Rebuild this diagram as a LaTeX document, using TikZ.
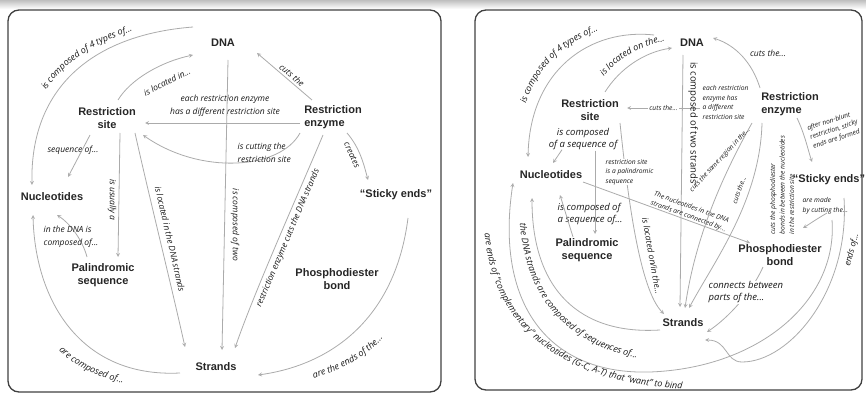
\documentclass[tikz,border=0pt]{standalone}
\usepackage{fontspec}
\setmainfont{Liberation Sans}
\newfontfamily\handfont{Open Sans}
\usetikzlibrary{decorations.text}

\tikzset{
  panel/.style={draw=black!75, line width=1.3pt, rounded corners=11pt},
  concept/.style={font=\bfseries\fontsize{11}{13}\selectfont, align=center, inner sep=1pt, text=black!85},
  link/.style={draw=black!33, line width=0.8pt, -stealth},
  note/.style={font=\handfont\itshape\fontsize{8.5}{12.5}\selectfont, align=center, inner sep=0.5pt, text=black!90},
  big note/.style={note, font=\handfont\itshape\fontsize{9.5}{12.5}\selectfont},
  print note/.style={note, font=\handfont\fontsize{9.5}{12.5}\selectfont},
  tiny note/.style={font=\handfont\itshape\fontsize{6.7}{9.5}\selectfont, align=left, inner sep=0.5pt, text=black!90},
  bent text/.style={decorate, decoration={text along path, text align=center,
      text={|\handfont\itshape\fontsize{9}{10}\selectfont\color{black!90}|#1}}},
}

\begin{document}
\begin{tikzpicture}[x=1pt,y=-1pt]
  \useasboundingbox (0,0) rectangle (866,398);
  % page shadow and the two frames
  \shade[top color=black!25, bottom color=white] (0,0) rectangle (866,9);
  \draw[panel] (8,10) rectangle (441,392);
  \draw[panel] (475,10) rectangle (862,390);

  % ---------- first map ----------
  \node[concept] (ldna) at (223,43) {DNA};
  \node[concept] (lsite) at (107,118) {Restriction\\site};
  \node[concept, align=left] (lenz) at (333,117) {Restriction\\enzyme};
  \node[concept] (lnuc) at (52,197) {Nucleotides};
  \node[concept] (lpal) at (103,275) {Palindromic\\sequence};
  \node[concept] (lsticky) at (396,195) {“Sticky ends”};
  \node[concept] (lbond) at (337,279) {Phosphodiester\\bond};
  \node[concept] (lstr) at (216,367) {Strands};

  \draw[link] ([shift={(-30,-16)}]ldna.center) .. controls (90,35) and (30,90) .. ([shift={(-20,-12)}]lnuc.center);
  \path[bent text={is composed of 4 types of...}] (28,150) .. controls (27,85) and (85,28) .. (195,20);
  \draw[link] ([shift={(11,-18)}]lsite.center) .. controls (130,80) and (160,62) .. ([shift={(-30,12)}]ldna.center);
  \node[note, rotate=27] (llocin) at (167,82) {is located in...};
  \draw[link] ([shift={(-33,6)}]lenz.center) -- ([shift={(38,5)}]lsite.center);
  \node[note] (leach) at (225,106) {each restriction enzyme\\has a different restriction site};
  \draw[link] ([shift={(-33,16)}]lenz.center) .. controls (280,170) and (200,175) .. ([shift={(36,17)}]lsite.center);
  \node[note, align=left, anchor=west] (lcutting) at (237,153) {is cutting the\\restriction site};
  \draw[link] ([shift={(-21,-17)}]lenz.center) -- ([shift={(34,10)}]ldna.center);
  \node[note, rotate=-40] (lcuts) at (292,75) {cuts the};
  \draw[link] ([shift={(14,16)}]lenz.center) .. controls (360,148) and (364,165) .. ([shift={(-28,-15)}]lsticky.center);
  \node[note, rotate=-65] (lcreates) at (352,155) {creates};
  \draw[link] ([shift={(-10,18)}]lenz.center) .. controls (300,190) and (255,290) .. ([shift={(19,-19)}]lstr.center);
  \node[note, rotate=67] (lcutsdna) at (288,238) {restriction enzyme cuts the DNA strands};
  \draw[link] ([shift={(5,17)}]ldna.center) -- ([shift={(6,-17)}]lstr.center);
  \node[note, rotate=-90] (ltwo) at (235,225) {is composed of two};
  \draw[link] ([shift={(13,15)}]lsite.center) -- ([shift={(15,-18)}]lpal.center);
  \node[note, rotate=-90] (lusually) at (112,200) {is usually a};
  \draw[link] ([shift={(28,15)}]lsite.center) .. controls (150,200) and (170,280) .. ([shift={(-31,-20)}]lstr.center);
  \node[note, rotate=-77] (llocdna) at (170,239) {is located in the DNA strands};
  \draw[link] ([shift={(-17,17)}]lsite.center) -- ([shift={(16,-20)}]lnuc.center);
  \node[note] (lseq) at (73,150) {sequence of...};
  \draw[link] ([shift={(-16,-18)}]lpal.center) .. controls (82,238) and (68,222) .. ([shift={(5,18)}]lnuc.center);
  \node[note, align=left, anchor=west] (linthe) at (43,237) {in the DNA is\\composed of...};
  \draw[link] ([shift={(-36,6)}]lstr.center) .. controls (80,378) and (35,300) .. ([shift={(-19,18)}]lnuc.center);
  \path[bent text={are composed of...}] (48,337) .. controls (65,362) and (95,380) .. (140,386);
  \draw[link] ([shift={(12,23)}]lsticky.center) .. controls (395,320) and (330,365) .. ([shift={(42,8)}]lstr.center);
  \path[bent text={are the ends of the...}] (296,382) .. controls (335,376) and (372,357) .. (394,324);

  % ---------- second map ----------
  \node[concept] (rdna) at (692,43) {DNA};
  \node[concept] (rsite) at (590,110) {Restriction\\site};
  \node[concept, align=left] (renz) at (790,104) {Restriction\\enzyme};
  \node[concept] (rnuc) at (551,175) {Nucleotides};
  \node[concept] (rpal) at (587,250) {Palindromic\\sequence};
  \node[concept] (rsticky) at (829,180) {“Sticky ends”};
  \node[concept] (rbond) at (780,255) {Phosphodiester\\bond};
  \node[concept] (rstr) at (683,323) {Strands};

  \draw[link] ([shift={(-38,-8)}]rdna.center) .. controls (590,28) and (530,70) .. ([shift={(-23,-18)}]rnuc.center);
  \path[bent text={is composed of 4 types of...}] (521,138) .. controls (521,72) and (572,28) .. (632,24);
  \draw[link] ([shift={(15,-18)}]rsite.center) .. controls (620,68) and (645,52) .. ([shift={(-20,5)}]rdna.center);
  \path[bent text={is located on the...}] (592,94) .. controls (612,58) and (642,42) .. (686,38);
  \draw[link] ([shift={(-90,4)}]renz.center) -- node[tiny note, fill=white, inner sep=1.5pt] (rcutsite) {cuts the...} ([shift={(37,-2)}]rsite.center);
  \draw[link] ([shift={(-9,12)}]rdna.center) -- ([shift={(-3,-16)}]rstr.center);
  \node[print note, rotate=-90] (rtwo) at (693,123) {is composed of two strands};
  \draw[link] ([shift={(-30,-16)}]renz.center) .. controls (752,62) and (735,45) .. ([shift={(21,-5)}]rdna.center);
  \node[note] (rcutsdna) at (768,53) {cuts the...};
  \node[tiny note, anchor=north west] (reach) at (702,85) {each restriction\\enzyme has\\a different\\restriction site};
  \draw[link] ([shift={(7,14)}]renz.center) .. controls (805,135) and (808,150) .. ([shift={(-17,-18)}]rsticky.center);
  \node[tiny note, rotate=18] (rblunt) at (834,130) {after non-blunt\\restriction, sticky\\ends are formed};
  \node[tiny note, rotate=90, anchor=west] (rphos) at (782,235) {cuts the phosphodiester\\bonds in between the nucleotides\\in the restriction site};
  \node[tiny note, anchor=north west] (rmade) at (802,197) {are made\\by cutting the...};
  \draw[link] ([shift={(-2,33)}]rsticky.center) .. controls (815,220) and (808,225) .. ([shift={(23,-27)}]rbond.center);
  \draw[link] ([shift={(15,18)}]rsticky.center) .. controls (850,290) and (790,362) .. (742,362) .. controls (725,362) and (728,340) .. ([shift={(22,17)}]rstr.center);
  \node[note, rotate=75] (rendsof) at (852,250) {ends of...};
  \draw[link] ([shift={(3,40)}]rsticky.center) .. controls (838,300) and (760,368) .. (650,372) .. controls (545,375) and (495,300) .. ([shift={(-38,8)}]rnuc.center);
  \path[bent text={are ends of “complementary” nucleotides (G-C, A-T) that “want” to bind}] (484,200) .. controls (478,335) and (570,390) .. (715,390);
  \draw[link] ([shift={(-23,7)}]rstr.center) .. controls (580,335) and (532,290) .. ([shift={(-19,23)}]rnuc.center);
  \path[bent text={the DNA strands are composed of sequences of...}] (519,200) .. controls (518,305) and (575,352) .. (660,362);
  \draw[link] ([shift={(-17,12)}]rbond.center) .. controls (752,292) and (728,318) .. ([shift={(24,9)}]rstr.center);
  \node[big note, align=left, anchor=west, fill=white] (rconnects) at (708,292) {connects between\\parts of the...};
  \draw[link] ([shift={(32,7)}]rnuc.center) -- ([shift={(-30,-12)}]rbond.center);
  \node[tiny note, rotate=-20] (rconnby) at (690,212) {The nucleotides in the DNA\\strands are connected by...};
  \node[big note] (rseq) at (583,139) {is composed\\of a sequence of};
  \draw[link] ([shift={(-21,-1)}]rseq.south) -- ([shift={(2,-12)}]rnuc.center);
  \draw[link] ([shift={(12,0)}]rseq.south) -- ([shift={(8,-16)}]rpal.center);
  \draw[link] ([shift={(30,13)}]rsite.center) .. controls (628,200) and (640,290) .. ([shift={(-19,-9)}]rstr.center);
  \node[tiny note, anchor=west, fill=white] (rpalnote) at (605,172) {restriction site\\is a palindromic\\sequence};
  \node[note, rotate=-80] (rlocon) at (652,256) {is located on/in the...};
  \node[big note, align=left, anchor=west] (rpalseq) at (557,214) {is composed of\\a sequence of...};
  \draw[link] ([shift={(-14,-13)}]rpal.center) -- ([shift={(9,20)}]rnuc.center);
  \draw[link] ([shift={(-38,19)}]renz.center) .. controls (720,180) and (695,240) .. ([shift={(2,-15)}]rstr.center);
  \node[tiny note, rotate=47] (rsame) at (720,160) {cuts the same region in the...};
  \draw[link] ([shift={(-28,19)}]renz.center) .. controls (760,200) and (715,260) .. ([shift={(6,-15)}]rstr.center);
  \node[tiny note, rotate=70] (rcutsthe) at (739,190) {cuts the...};
\end{tikzpicture}
\end{document}
